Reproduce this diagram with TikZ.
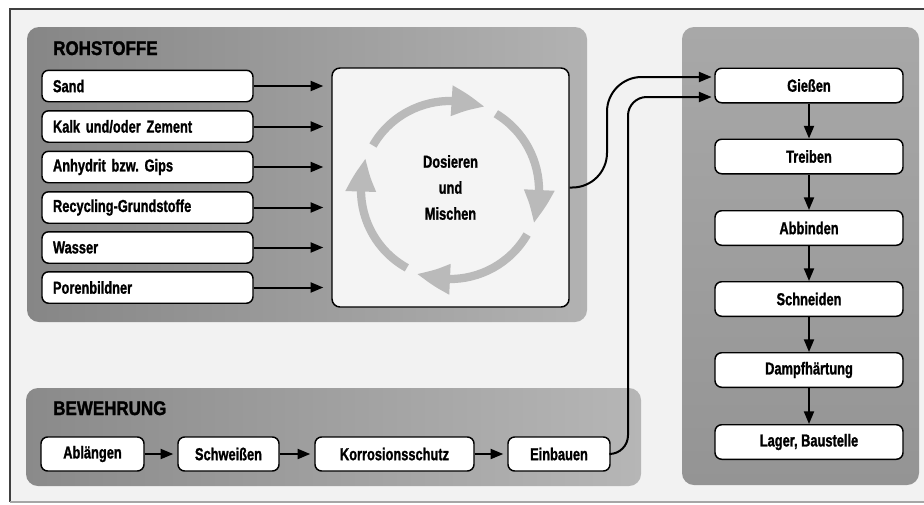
\documentclass[tikz,border=0pt]{standalone}
\usepackage{fontspec}
\setmainfont{Liberation Sans}
\newfontfamily\boxfont[FakeStretch=0.74, BoldFeatures={FakeBold=1.2}]{Liberation Sans}
\newfontfamily\titlefont[FakeStretch=0.86, BoldFeatures={FakeBold=1.5}]{Liberation Sans}
\usetikzlibrary{arrows.meta,bending}
\frenchspacing
\definecolor{bgin}{RGB}{242,242,242}
\definecolor{rohL}{RGB}{134,134,134}
\definecolor{rohR}{RGB}{178,178,178}
\definecolor{rightT}{RGB}{168,168,168}
\definecolor{rightB}{RGB}{148,148,148}
\definecolor{bewL}{RGB}{138,138,138}
\definecolor{bewR}{RGB}{182,182,182}
\definecolor{mixfill}{RGB}{244,244,244}
\definecolor{ringcol}{RGB}{186,186,186}
\tikzset{
  boxbase/.style={draw=black, line width=1.1pt, fill=white, rounded corners=5pt,
    font=\boxfont\bfseries\fontsize{13}{15}\selectfont\frenchspacing},
  inbox/.style={boxbase, text width=141.75pt, align=left, inner xsep=8.25pt,
    inner ysep=0pt, minimum height=23.6pt},
  rbox/.style={boxbase, minimum width=141pt, minimum height=25.9pt, inner sep=0pt},
  bbox/.style={boxbase, minimum height=25.5pt, inner sep=0pt},
  mixbox/.style={draw=black, line width=1.1pt, fill=mixfill, rounded corners=6pt,
    minimum width=177.75pt, minimum height=179.25pt, inner sep=0pt, align=center,
    font=\boxfont\bfseries\fontsize{13}{19.5}\selectfont},
  paneltitle/.style={inner sep=0pt, anchor=base west,
    font=\titlefont\bfseries\fontsize{14.8}{17}\selectfont},
  arr/.style={-{Triangle[length=9.5pt,width=7.5pt]}, line width=1.5pt},
  ring/.style={ringcol, line width=6.2pt, -{Triangle[bend,length=26pt,width=21pt]}}
}
\begin{document}
\begin{tikzpicture}[x=0.75pt,y=-0.75pt]
\useasboundingbox (0,0) rectangle (924,504);
\fill[white] (0,0) rectangle (924,504);
\fill[bgin] (10,9) rectangle (924,502);
\draw[line width=1.1pt, black!75] (924,9) -- (10,9) -- (10,502);
\draw[line width=1pt, black!35] (10,502) -- (924,502);

% panels
\shade[rounded corners=9pt, left color=rohL, right color=rohR] (27,27) rectangle (587,322);
\shade[rounded corners=9pt, top color=rightT, bottom color=rightB] (682,27) rectangle (919,485);
\shade[rounded corners=9pt, left color=bewL, right color=bewR] (26,388) rectangle (641,486);

\node[paneltitle] (tRoh) at (53,55) {ROHSTOFFE};
\node[paneltitle] (tBew) at (53,415) {BEWEHRUNG};

% raw materials
\node[inbox] (sand) at (147.5,86) {Sand};
\node[inbox] (kalk) at (147.5,126.5) {Kalk und/oder Zement};
\node[inbox] (anhy) at (147.5,167) {Anhydrit bzw. Gips};
\node[inbox] (recy) at (147.5,207.5) {Recycling-Grundstoffe};
\node[inbox] (wass) at (147.5,247.5) {Wasser};
\node[inbox] (pore) at (147.5,287.5) {Porenbildner};

% mixing
\node[mixbox] (mix) at (450.5,187.5) {Dosieren\\und\\Mischen};

\foreach \n in {sand,kalk,anhy,recy,wass,pore}
  \draw[arr, shorten >=6pt] (\n.east) -- (\n.east -| mix.west);

\begin{scope}[shift={(450,190)}, x=0.75pt, y=0.75pt]
  \draw[ring] (150:89) arc[start angle=150, end angle=67, radius=89];
  \draw[ring] (59:89) arc[start angle=59, end angle=-22, radius=89];
  \draw[ring] (-30:89) arc[start angle=-30, end angle=-112, radius=89];
  \draw[ring] (-119:89) arc[start angle=-119, end angle=-201, radius=89];
\end{scope}

% process chain
\node[rbox] (giessen) at (809,85.5) {Gießen};
\node[rbox] (treiben) at (809,156.5) {Treiben};
\node[rbox] (abbinden) at (809,228) {Abbinden};
\node[rbox] (schneiden) at (809,299) {Schneiden};
\node[rbox] (dampf) at (809,370) {Dampfhärtung};
\node[rbox] (lager) at (809,442) {Lager, Baustelle};

\draw[arr] (giessen.south) -- (treiben.north);
\draw[arr] (treiben.south) -- (abbinden.north);
\draw[arr] (abbinden.south) -- (schneiden.north);
\draw[arr] (schneiden.south) -- (dampf.north);
\draw[arr] (dampf.south) -- (lager.north);

% reinforcement
\node[bbox, minimum width=77.25pt] (ablaengen) at (92.5,454) {Ablängen};
\node[bbox, minimum width=75.75pt] (schweissen) at (228.5,454) {Schweißen};
\node[bbox, minimum width=119.25pt] (korr) at (394.5,454) {Korrosionsschutz};
\node[bbox, minimum width=76.5pt] (einbauen) at (559,454) {Einbauen};

\draw[arr, shorten >=3pt] (ablaengen.east) -- (schweissen.west);
\draw[arr, shorten >=3pt] (schweissen.east) -- (korr.west);
\draw[arr, shorten >=3pt] (korr.east) -- (einbauen.west);

% connectors into casting
\coordinate (g1) at ([yshift=6.375pt]giessen.west);
\coordinate (g2) at ([yshift=-8.625pt]giessen.west);
\coordinate (c1) at (607,0);
\coordinate (c2) at (628,0);
\draw[arr, rounded corners=26pt, shorten >=2pt] (mix.east) -| (c1 |- g1) -- (g1);
\draw[arr, rounded corners=14pt, shorten >=2pt] (einbauen.east) -| (c2 |- g2) -- (g2);
\end{tikzpicture}
\end{document}
